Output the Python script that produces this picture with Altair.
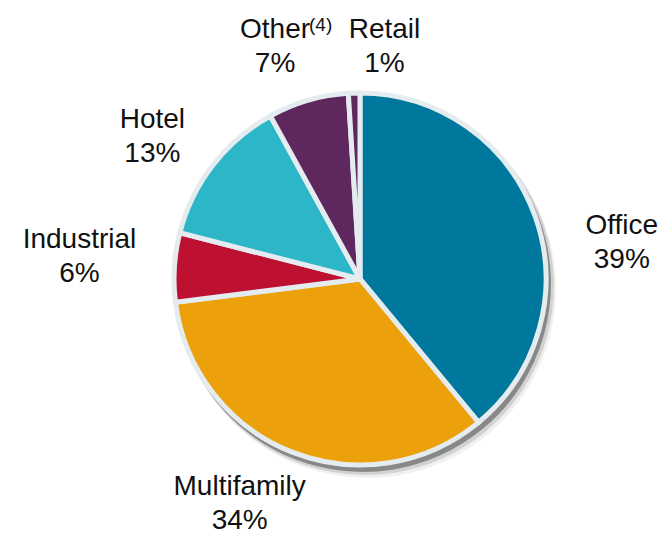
import altair as alt
import pandas as pd

categories = ["Office", "Multifamily", "Industrial", "Hotel", "Other", "Retail"]
shares = [39, 34, 6, 13, 7, 1]
footnotes = ["", "", "", "", "(4)", ""]
colors = ["#00789D", "#ECA00A", "#BE1030", "#2CB6C8", "#5E285E", "#5E285E"]

# label nudges (pixels) relative to the polar anchor
nudge_dx = [36, -32, -41, -18, -18, 32]
nudge_dy = [36, -7, -16, -4, -11, -1]

df = pd.DataFrame({
    "cat": categories,
    "share": shares,
    "order": list(range(len(categories))),
    "label": [f"{n}\n{s}%" for n, s in zip(categories, shares)],
    "note": footnotes,
})

CX, CY = 352, 271
R = 186

base = alt.Chart(df).transform_window(
    cum="sum(share)", sort=[alt.SortField("order")], frame=[None, 0]
).transform_calculate(
    start="datum.cum - datum.share",
    mid="datum.cum - datum.share / 2",
)

tscale = alt.Scale(domain=[0, 100])


def shadow(off_x, off_y, extra, op):
    return base.mark_arc(outerRadius=R + extra, color="#000000", opacity=op).encode(
        theta=alt.Theta("start:Q", scale=tscale), theta2="cum:Q",
        x=alt.value(CX + off_x), y=alt.value(CY + off_y),
    )


pie = base.mark_arc(outerRadius=R, stroke="#E4ECF0", strokeWidth=5).encode(
    theta=alt.Theta("start:Q", scale=tscale), theta2="cum:Q",
    color=alt.Color("cat:N", scale=alt.Scale(domain=categories, range=colors), legend=None),
    x=alt.value(CX), y=alt.value(CY),
)

layers = [
    shadow(7, 10, 3, 0.06),
    shadow(5, 7, 3, 0.12),
    shadow(3, 5, 2, 0.35),
    pie,
]
for cat, ddx, ddy in zip(categories, nudge_dx, nudge_dy):
    layers.append(
        base.transform_filter(alt.datum.cat == cat).mark_text(
            radius=240, dx=ddx, dy=ddy, fontSize=28, font="Liberation Sans",
            align="center", baseline="alphabetic", lineBreak="\n", lineHeight=34,
            color="#111111",
        ).encode(
            theta=alt.Theta("mid:Q", scale=tscale),
            text="label:N",
            x=alt.value(CX), y=alt.value(CY),
        )
    )

note = base.transform_filter(alt.datum.note != "").mark_text(
    radius=240, dx=16, dy=-18, fontSize=19, font="Liberation Sans",
    align="left", baseline="alphabetic", color="#111111",
).encode(
    theta=alt.Theta("mid:Q", scale=tscale),
    text="note:N",
    x=alt.value(CX), y=alt.value(CY),
)
layers.append(note)

chart = alt.layer(*layers).properties(
    width=652, height=527, autosize="none", padding=0
).configure_view(strokeWidth=0)

chart.save("out.html", embed_options={"renderer": "svg", "actions": False})
